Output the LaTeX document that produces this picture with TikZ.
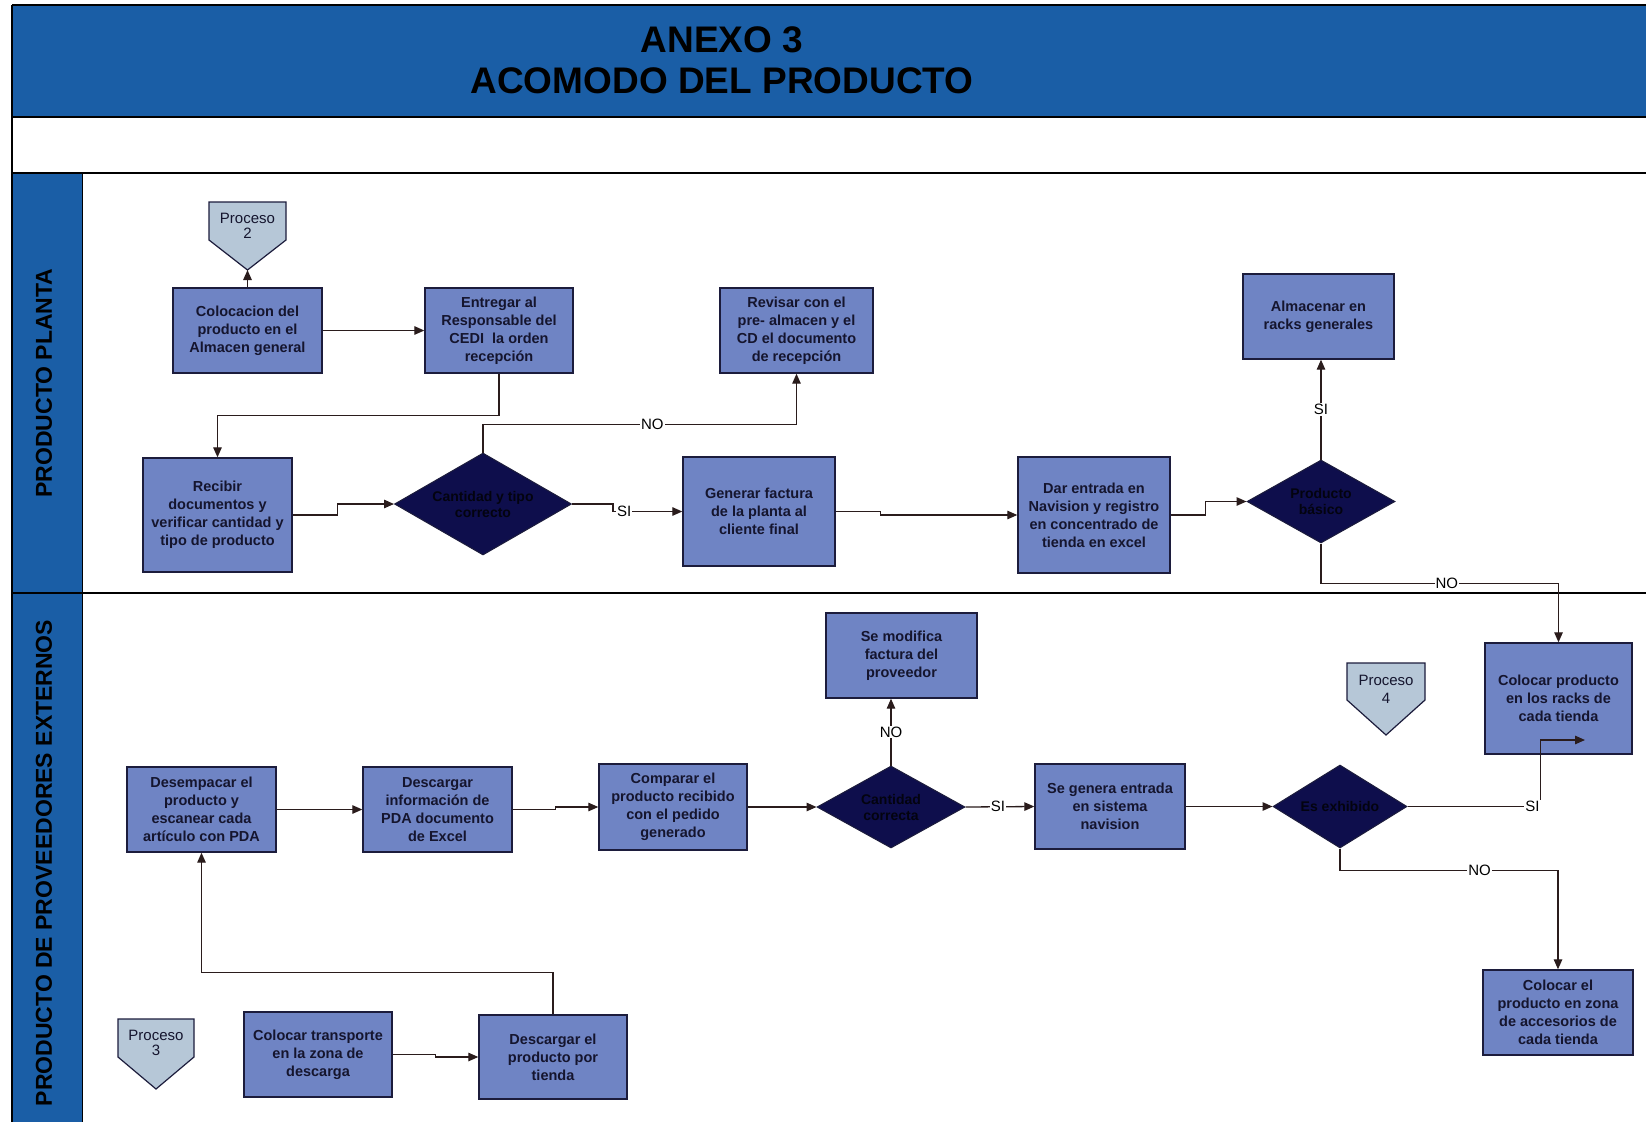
\documentclass[tikz,border=0pt]{standalone}
\usepackage{fontspec}
\setmainfont{Liberation Sans}
\usetikzlibrary{shapes.geometric,arrows.meta,calc}
\definecolor{band}{HTML}{1A5EA6}
\definecolor{boxfill}{HTML}{6F84C4}
\definecolor{boxline}{HTML}{1C1C3C}
\definecolor{decfill}{HTML}{0E0E4C}
\definecolor{dectext}{HTML}{03030F}
\definecolor{pentfill}{HTML}{B6C7D7}
\definecolor{wire}{HTML}{2A1C1C}
\definecolor{ink}{HTML}{15152E}
\begin{document}
\begin{tikzpicture}[x=1pt,y=-1pt,
  stepbox/.style={draw=boxline, line width=1.4pt, fill=boxfill, text=ink, align=center,
    font=\bfseries\fontsize{14.5}{18}\selectfont, inner sep=1pt},
  decision/.style={diamond, draw=boxline, line width=1pt, fill=decfill, text=dectext, align=center,
    font=\bfseries\fontsize{14}{16}\selectfont, inner sep=0pt},
  conn/.style={draw=wire, line width=1.3pt, -{Triangle[length=10pt,width=8.5pt]}},
  lbl/.style={fill=white, inner sep=1pt, font=\fontsize{15}{15}\selectfont, text=black},
  pent/.style={draw=boxline, line width=1.2pt, fill=pentfill},
  pentxt/.style={align=center, font=\fontsize{15}{15}\selectfont, text=ink, inner sep=0pt},
  lane/.style={rotate=90, font=\bfseries\fontsize{23}{23}\selectfont, text=black},
]
\useasboundingbox (0,0) rectangle (1646,1122);
\fill[white] (0,0) rectangle (1646,1122);

% header band, lane column and frame lines
\fill[band] (12,5) rectangle (1646,117);
\fill[band] (12,173) rectangle (82,1122);
\draw[line width=1.5pt] (12,5) -- (1646,5);
\draw[line width=1.5pt] (12,5) -- (12,1122);
\draw[line width=2pt] (12,117) -- (1646,117);
\draw[line width=2.5pt] (12,173) -- (1646,173);
\draw[line width=1.2pt] (12,593) -- (1646,593);
\draw[line width=0.8pt] (82,173) -- (82,1122);

\node[font=\bfseries\fontsize{37}{41}\selectfont, align=center] (title) at (722,60)
  {ANEXO 3\\ACOMODO DEL PRODUCTO};
\node[lane] (lane1) at (44,383) {PRODUCTO PLANTA};
\node[lane] (lane2) at (44,863) {PRODUCTO DE PROVEEDORES EXTERNOS};

% off-page connectors
\draw[pent] (209,202) -- (286,202) -- (286,240) -- (247.5,270) -- (209,240) -- cycle;
\coordinate (p2tip) at (247.5,270);
\node[pentxt] (p2) at (247.5,225.5) {Proceso\\2};
\draw[pent] (1347,663) -- (1425,663) -- (1425,700) -- (1386,735) -- (1347,700) -- cycle;
\node[pentxt, font=\fontsize{15}{18}\selectfont] (p4) at (1386,689) {Proceso\\4};
\draw[pent] (118,1019) -- (194,1019) -- (194,1057) -- (156,1089) -- (118,1057) -- cycle;
\node[pentxt] (p3) at (156,1043) {Proceso\\3};

% lane 1: producto planta
\node[stepbox, minimum width=149pt, minimum height=85pt] (colo) at (247.5,330.5)
  {Colocacion del\\producto en el\\Almacen general};
\node[stepbox, minimum width=148pt, minimum height=85pt] (entr) at (499,330.5)
  {Entregar al\\Responsable del\\CEDI~ la orden\\recepción};
\node[stepbox, minimum width=149pt, minimum height=114pt] (reci) at (217.5,515)
  {Recibir\\documentos y\\verificar cantidad y\\tipo de producto};
\node[stepbox, minimum width=153pt, minimum height=85pt] (revi) at (796.5,330.5)
  {Revisar con el\\pre- almacen y el\\CD el documento\\de recepción};
\node[stepbox, minimum width=152pt, minimum height=109pt] (gene) at (759,511.5)
  {Generar factura\\de la planta al\\cliente final};
\node[stepbox, minimum width=152pt, minimum height=116pt] (dar) at (1094,515)
  {Dar entrada en\\Navision y registro\\en concentrado de\\tienda en excel};
\node[stepbox, minimum width=151pt, minimum height=85pt] (alma) at (1318.5,316.5)
  {Almacenar en\\racks generales};
\node[decision, aspect=1.74, minimum width=177pt, minimum height=102pt] (d1) at (483,504)
  {Cantidad y tipo\\correcto};
\node[decision, aspect=1.78, minimum width=148pt, minimum height=83pt] (d2) at (1321,501.5)
  {Producto\\básico};

% lane 2: proveedores externos
\node[stepbox, minimum width=147pt, minimum height=111pt] (racks) at (1558.5,698.5)
  {Colocar producto\\en los racks de\\cada tienda};
\node[stepbox, minimum width=150pt, minimum height=85pt] (acce) at (1558,1012.5)
  {Colocar el\\producto en zona\\de accesorios de\\cada tienda};
\node[stepbox, minimum width=149pt, minimum height=85pt] (dese) at (201.5,809.5)
  {Desempacar el\\producto y\\escanear cada\\artículo con PDA};
\node[stepbox, minimum width=149pt, minimum height=85pt] (desc) at (437.5,809.5)
  {Descargar\\información de\\PDA documento\\de Excel};
\node[stepbox, minimum width=148pt, minimum height=86pt] (comp) at (673,807)
  {Comparar el\\producto recibido\\con el pedido\\generado};
\node[stepbox, minimum width=151pt, minimum height=85pt] (modi) at (901.5,655.5)
  {Se modifica\\factura del\\proveedor};
\node[stepbox, minimum width=150pt, minimum height=85pt] (segen) at (1110,806.5)
  {Se genera entrada\\en sistema\\navision};
\node[stepbox, minimum width=148pt, minimum height=85pt] (trans) at (318,1054.5)
  {Colocar transporte\\en la zona de\\descarga};
\node[stepbox, minimum width=148pt, minimum height=84pt] (descp) at (553,1057)
  {Descargar el\\producto por\\tienda};
\node[decision, aspect=1.8, minimum width=148pt, minimum height=82pt] (d3) at (891,807)
  {Cantidad\\correcta};
\node[decision, aspect=1.6, minimum width=134pt, minimum height=83pt] (d4) at (1340,806.5)
  {Es exhibido};
\coordinate (rin) at (1585,740);

% connectors, lane 1
\draw[conn] (colo.north) -- (p2tip);
\draw[conn] (colo.east) -- (entr.west);
\draw[conn] (entr.south) -- ++(0,42) -| (reci.north);
\draw[conn] (reci.east) -- ++(45,0) |- (d1.west);
\draw[conn] (d1.north) -- ++(0,-28) -| node[lbl, pos=0.27] {NO} (revi.south);
\draw[conn] (d1.east) -- ++(41,0) |- node[lbl, pos=0.58] {SI} (gene.west);
\draw[conn] (gene.east) -- ++(45,0) |- (dar.west);
\draw[conn] (dar.east) -- ++(35,0) |- (d2.west);
\draw[conn] (d2.north) -- node[lbl] {SI} (d2.north |- alma.south);
\draw[conn] (d2.south) -- ++(0,40) -| node[lbl, pos=0.265] {NO} (racks.north);

% connectors, lane 2
\draw[conn] (descp.north) -- ++(0,-42) -| (dese.south);
\draw[conn] (trans.east) -- ++(43,0) |- (descp.west);
\draw[conn] (dese.east) -- (desc.west);
\draw[conn] (desc.east) -- ++(43,0) |- (comp.west);
\draw[conn] (comp.east) -- (d3.west);
\draw[conn] (d3.north) -- node[lbl] {NO} (d3.north |- modi.south);
\draw[conn] (d3.east) -- node[lbl, pos=0.47] {SI} (segen.west);
\draw[conn] (segen.east) -- (d4.west);
\draw[conn] (d4.east) -- node[lbl, pos=0.94] {SI} ++(133,0) |- (rin);
\draw[conn] (d4.south) -- ++(0,22) -| node[lbl, pos=0.32] {NO} (acce.north);
\end{tikzpicture}
\end{document}
